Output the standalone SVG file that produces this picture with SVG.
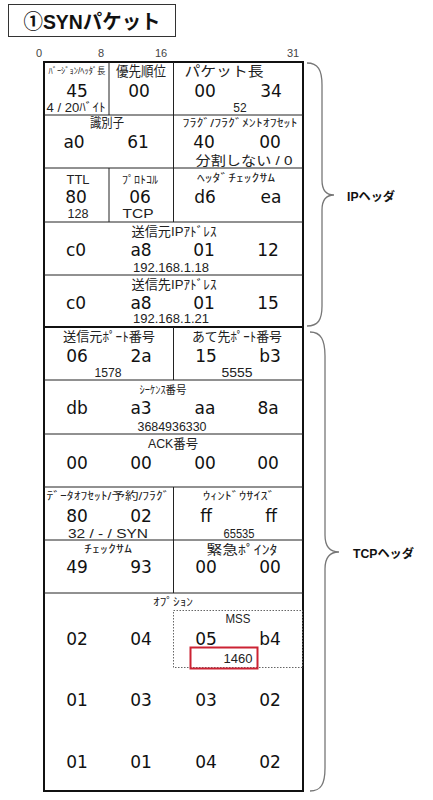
<svg xmlns="http://www.w3.org/2000/svg" width="433" height="800" viewBox="0 0 433 800">
<style>
text{font-family:"Liberation Sans","Noto Sans CJK JP",sans-serif;text-anchor:middle;fill:#222}
.t{font-size:20px;font-weight:bold;fill:#111}
.b{font-size:11px;fill:#444}
.l{font-size:11px}
.lk{font-size:13px}
.s{font-size:12px}
.v{font-family:"DejaVu Sans","Noto Sans CJK JP",sans-serif;font-size:17px;fill:#111}
.h{font-size:12px;font-weight:bold;fill:#111;text-anchor:start}
.ln{stroke:#222;stroke-width:1;fill:none}
.bd{stroke:#111;stroke-width:2;fill:none}
.br{stroke:#777;stroke-width:1.3;fill:none}
</style>
<rect width="433" height="800" fill="#fff"/>
<g id="title">
<rect x="8.5" y="4.5" width="167" height="32" fill="#fff" stroke="#333" stroke-width="1"/>
<text class="t" x="92" y="29" textLength="137" lengthAdjust="spacingAndGlyphs">①SYNパケット</text>
</g>
<g id="bits">
<text class="b" x="39" y="57">0</text>
<text class="b" x="101" y="57">8</text>
<text class="b" x="161" y="57">16</text>
<text class="b" x="293" y="57">31</text>
</g>
<g id="grid">
<rect class="bd" x="44" y="62" width="259" height="729"/>
<line class="ln" x1="44" y1="115" x2="303" y2="115"/>
<line class="ln" x1="44" y1="168" x2="303" y2="168"/>
<line class="ln" x1="44" y1="222" x2="303" y2="222"/>
<line class="ln" x1="44" y1="275" x2="303" y2="275"/>
<line class="bd" x1="44" y1="327" x2="303" y2="327"/>
<line class="ln" x1="44" y1="380" x2="303" y2="380"/>
<line class="ln" x1="44" y1="434" x2="303" y2="434"/>
<line class="ln" x1="44" y1="487" x2="303" y2="487"/>
<line class="ln" x1="44" y1="540" x2="303" y2="540"/>
<line class="ln" x1="44" y1="593" x2="303" y2="593"/>
<line class="ln" x1="109" y1="62" x2="109" y2="115"/>
<line class="ln" x1="173.5" y1="62" x2="173.5" y2="222"/>
<line class="ln" x1="109" y1="168" x2="109" y2="222"/>
<line class="ln" x1="173.5" y1="327" x2="173.5" y2="380"/>
<line class="ln" x1="173.5" y1="487" x2="173.5" y2="593"/>
</g>
<g id="version">
<text class="l" x="77" y="74" font-size="9" textLength="57" lengthAdjust="spacingAndGlyphs" style="font-size:9px">ﾊﾞｰｼﾞｮﾝ/ﾍｯﾀﾞ長</text>
<text class="v" x="77" y="97">45</text>
<text class="s" x="76" y="112" textLength="59" lengthAdjust="spacingAndGlyphs">4 / 20ﾊﾞｲﾄ</text>
</g>
<g id="priority">
<text class="lk" x="141" y="76" textLength="50" lengthAdjust="spacingAndGlyphs" style="font-size:14px">優先順位</text>
<text class="v" x="139" y="97">00</text>
</g>
<g id="packet-length">
<text class="lk" x="224" y="76" textLength="79" lengthAdjust="spacingAndGlyphs" style="font-size:14px">パケット長</text>
<text class="v" x="205" y="97">00</text>
<text class="v" x="271" y="97">34</text>
<text class="s" x="240" y="112">52</text>
</g>
<g id="identifier">
<text class="lk" x="107" y="127" textLength="34" lengthAdjust="spacingAndGlyphs">識別子</text>
<text class="v" x="74" y="148">a0</text>
<text class="v" x="138" y="148">61</text>
</g>
<g id="flags">
<text class="l" x="240" y="127" textLength="115" lengthAdjust="spacingAndGlyphs">ﾌﾗｸﾞ/ﾌﾗｸﾞﾒﾝﾄｵﾌｾｯﾄ</text>
<text class="v" x="204" y="148">40</text>
<text class="v" x="270" y="148">00</text>
<text class="lk" x="244" y="165" textLength="97" lengthAdjust="spacingAndGlyphs">分割しない / 0</text>
</g>
<g id="ttl">
<text class="s" x="78" y="184" textLength="23" lengthAdjust="spacingAndGlyphs">TTL</text>
<text class="v" x="76" y="203">80</text>
<text class="s" x="78" y="218" textLength="21" lengthAdjust="spacingAndGlyphs">128</text>
</g>
<g id="protocol">
<text class="l" x="140" y="184" textLength="36" lengthAdjust="spacingAndGlyphs">ﾌﾟﾛﾄｺﾙ</text>
<text class="v" x="140" y="203">06</text>
<text class="s" x="138" y="218" textLength="31" lengthAdjust="spacingAndGlyphs">TCP</text>
</g>
<g id="header-checksum">
<text class="l" x="236" y="182" textLength="78" lengthAdjust="spacingAndGlyphs">ﾍｯﾀﾞﾁｪｯｸｻﾑ</text>
<text class="v" x="205" y="203">d6</text>
<text class="v" x="271" y="203">ea</text>
</g>
<g id="src-ip">
<text class="lk" x="174" y="236" textLength="85" lengthAdjust="spacingAndGlyphs">送信元IPｱﾄﾞﾚｽ</text>
<text class="v" x="76" y="256">c0</text>
<text class="v" x="141" y="256">a8</text>
<text class="v" x="204" y="256">01</text>
<text class="v" x="268" y="256">12</text>
<text class="s" x="171" y="272" textLength="76" lengthAdjust="spacingAndGlyphs">192.168.1.18</text>
</g>
<g id="dst-ip">
<text class="lk" x="174" y="289" textLength="85" lengthAdjust="spacingAndGlyphs">送信先IPｱﾄﾞﾚｽ</text>
<text class="v" x="76" y="309">c0</text>
<text class="v" x="141" y="309">a8</text>
<text class="v" x="204" y="309">01</text>
<text class="v" x="268" y="309">15</text>
<text class="s" x="171" y="323" textLength="76" lengthAdjust="spacingAndGlyphs">192.168.1.21</text>
</g>
<g id="src-port">
<text class="lk" x="109" y="341" textLength="92" lengthAdjust="spacingAndGlyphs">送信元ﾎﾟｰﾄ番号</text>
<text class="v" x="77" y="362">06</text>
<text class="v" x="141" y="362">2a</text>
<text class="s" x="108" y="377" textLength="27" lengthAdjust="spacingAndGlyphs">1578</text>
</g>
<g id="dst-port">
<text class="lk" x="237" y="341" textLength="90" lengthAdjust="spacingAndGlyphs">あて先ﾎﾟｰﾄ番号</text>
<text class="v" x="206" y="362">15</text>
<text class="v" x="270" y="362">b3</text>
<text class="s" x="237" y="377" textLength="31" lengthAdjust="spacingAndGlyphs">5555</text>
</g>
<g id="sequence">
<text class="l" x="163" y="394" textLength="47" lengthAdjust="spacingAndGlyphs">ｼｰｹﾝｽ番号</text>
<text class="v" x="77" y="414">db</text>
<text class="v" x="141" y="414">a3</text>
<text class="v" x="205" y="414">aa</text>
<text class="v" x="268" y="414">8a</text>
<text class="s" x="172" y="431" textLength="69" lengthAdjust="spacingAndGlyphs">3684936330</text>
</g>
<g id="ack">
<text class="lk" x="173" y="448" textLength="50" lengthAdjust="spacingAndGlyphs">ACK番号</text>
<text class="v" x="77" y="469">00</text>
<text class="v" x="141" y="469">00</text>
<text class="v" x="205" y="469">00</text>
<text class="v" x="268" y="469">00</text>
</g>
<g id="offset-flags">
<text class="l" x="108" y="500" textLength="123" lengthAdjust="spacingAndGlyphs">ﾃﾞｰﾀｵﾌｾｯﾄ/予約/ﾌﾗｸﾞ</text>
<text class="v" x="77" y="522">80</text>
<text class="v" x="141" y="522">02</text>
<text class="s" x="108" y="538" textLength="80" lengthAdjust="spacingAndGlyphs">32 / - / SYN</text>
</g>
<g id="window">
<text class="l" x="239" y="500" textLength="72" lengthAdjust="spacingAndGlyphs">ｳｨﾝﾄﾞｳｻｲｽﾞ</text>
<text class="v" x="206" y="522">ff</text>
<text class="v" x="271" y="522">ff</text>
<text class="s" x="239" y="538" textLength="31" lengthAdjust="spacingAndGlyphs">65535</text>
</g>
<g id="checksum">
<text class="l" x="108" y="553" textLength="48" lengthAdjust="spacingAndGlyphs">ﾁｪｯｸｻﾑ</text>
<text class="v" x="77" y="573">49</text>
<text class="v" x="141" y="573">93</text>
</g>
<g id="urgent">
<text class="lk" x="242" y="554" textLength="71" lengthAdjust="spacingAndGlyphs">緊急ﾎﾟｲﾝﾀ</text>
<text class="v" x="206" y="573">00</text>
<text class="v" x="270" y="573">00</text>
</g>
<g id="options">
<text class="l" x="173" y="606" textLength="40" lengthAdjust="spacingAndGlyphs">ｵﾌﾟｼｮﾝ</text>
<text class="v" x="77" y="645">02</text>
<text class="v" x="141" y="645">04</text>
<text class="v" x="77" y="706">01</text>
<text class="v" x="141" y="706">03</text>
<text class="v" x="206" y="706">03</text>
<text class="v" x="270" y="706">02</text>
<text class="v" x="77" y="768">01</text>
<text class="v" x="141" y="768">01</text>
<text class="v" x="206" y="768">04</text>
<text class="v" x="270" y="768">02</text>
</g>
<g id="mss">
<rect x="173.5" y="610.5" width="129" height="57" fill="none" stroke="#666" stroke-width="1" stroke-dasharray="1.5,1.5"/>
<text class="s" x="238" y="623" textLength="25" lengthAdjust="spacingAndGlyphs">MSS</text>
<text class="v" x="206" y="645">05</text>
<text class="v" x="270" y="645">b4</text>
<rect x="190.5" y="647.5" width="67" height="21" fill="none" stroke="#cc2233" stroke-width="2"/>
<text class="s" x="238" y="663" textLength="29" lengthAdjust="spacingAndGlyphs">1460</text>
</g>
<g id="connectors">
<path class="br" d="M307 63 C318 63 322 70 322 85 L322 180 C322 190 326 195 334 195 C326 195 322 200 322 210 L322 306 C322 320 318 326 307 326"/>
<path class="br" d="M310 332 C321 332 325 340 325 356 L325 535 C325 546 330 552 339 552 C330 552 325 558 325 569 L325 768 C325 784 321 791 310 791"/>
</g>
<g id="ip-label">
<text class="h" x="347" y="201" textLength="48" lengthAdjust="spacingAndGlyphs">IPヘッダ</text>
</g>
<g id="tcp-label">
<text class="h" x="353" y="558" textLength="61" lengthAdjust="spacingAndGlyphs">TCPヘッダ</text>
</g>
</svg>
